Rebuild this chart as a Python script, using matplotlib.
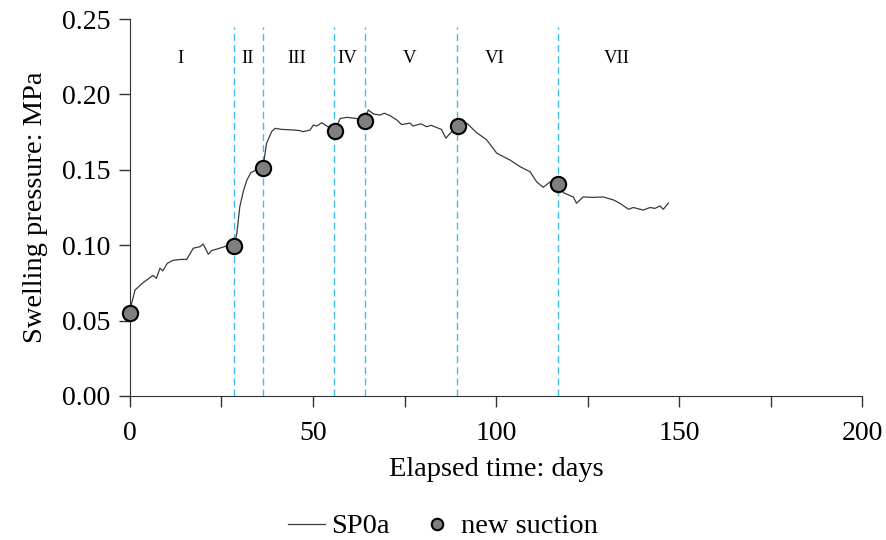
import matplotlib
matplotlib.use('Agg')
import matplotlib.pyplot as plt

plt.rcParams['font.family'] = ['Liberation Serif', 'DejaVu Serif']

# swelling pressure record SP0a (days, MPa)
days = [0.0, 0.5, 1.4, 3.5, 6.3, 7.2, 8.2, 9.0, 10.2, 11.8, 14.1, 15.5, 17.3,
        19.1, 20.0, 21.4, 22.3, 24.5, 26.4, 28.4,
        29.2, 30.0, 31.0, 31.9, 33.0, 34.5, 36.3,
        37.3, 38.7, 39.6, 41.4, 44.6, 46.4, 47.3, 49.2, 50.1, 51.0, 52.4, 53.3,
        54.5, 56.0, 57.4, 59.2, 61.9, 64.2,
        65.1, 66.5, 68.3, 69.5, 71.0, 72.9, 74.2, 76.5, 77.3, 78.3, 79.5, 81.0,
        82.3, 83.8, 85.1, 86.3, 87.4, 89.7,
        92.0, 94.7, 97.4, 100.2, 103.8, 106.6, 109.3, 111.1, 112.9, 114.8, 117.0,
        118.4, 121.1, 122.0, 123.8, 126.6, 129.3, 132.1, 133.9, 136.2, 137.5,
        140.2, 142.1, 143.4, 144.8, 145.7, 147.1]
pressure = [0.055, 0.062, 0.0703, 0.075, 0.080, 0.078, 0.0847, 0.083, 0.088, 0.090,
            0.0906, 0.0906, 0.098, 0.099, 0.1008, 0.094, 0.0964, 0.098, 0.0995, 0.0995,
            0.108, 0.1255, 0.136, 0.143, 0.148, 0.150, 0.151,
            0.1675, 0.1753, 0.1775, 0.1768, 0.1764, 0.176, 0.1753, 0.1764, 0.1797,
            0.179, 0.1812, 0.1797, 0.178, 0.176, 0.184, 0.1848, 0.184, 0.1826,
            0.1897, 0.187, 0.1863, 0.1875, 0.186, 0.183, 0.180, 0.181, 0.179, 0.1797,
            0.1805, 0.1786, 0.1795, 0.178, 0.1768, 0.171, 0.174, 0.179,
            0.181, 0.1746, 0.170, 0.161, 0.1565, 0.152, 0.1487, 0.142, 0.1384, 0.142,
            0.1406, 0.1348, 0.132, 0.1278, 0.132, 0.1317, 0.132, 0.130, 0.1277,
            0.1238, 0.125, 0.1233, 0.125, 0.1244, 0.126, 0.1238, 0.128]

# times at which a new suction was applied
suction_days = [0.0, 28.4, 36.3, 56.0, 64.2, 89.7, 117.0]
suction_pressure = [0.055, 0.0995, 0.151, 0.176, 0.1826, 0.179, 0.1406]

# stage boundaries and labels
stage_bounds = [28.4, 36.3, 55.7, 64.2, 89.3, 116.9]
stage_names = ['I', 'II', 'III', 'IV', 'V', 'VI', 'VII']
stage_label_x = [13.7, 32.0, 45.6, 59.3, 76.5, 99.7, 133.0]

fig = plt.figure(figsize=(8.86, 5.4), dpi=100)
ax = fig.add_axes([0.1467, 0.2667, 0.8263, 0.6981])

for xb in stage_bounds:
    ax.plot([xb, xb], [0, 0.245], color='#3fbdf0', linestyle=(0, (5, 3)),
            linewidth=1.0, zorder=1)

for name, xl in zip(stage_names, stage_label_x):
    ax.text(xl, 0.2235, name, ha='center', va='center', fontsize=13.5)

ax.plot(days, pressure, color='#3a3a3a', linewidth=0.9, label='SP0a', zorder=2)
ax.plot(suction_days, suction_pressure, linestyle='none', marker='o',
        markersize=11, markerfacecolor='#7f7f7f', markeredgecolor='black',
        markeredgewidth=1.5, label='new suction', zorder=3, clip_on=False)

ax.set_xlim(0, 200)
ax.set_ylim(0, 0.25)
ax.set_xticks([0, 25, 50, 75, 100, 125, 150, 175, 200])
ax.set_xticklabels(['0', '', '50', '', '100', '', '150', '', '200'])
ax.set_yticks([0, 0.05, 0.10, 0.15, 0.20, 0.25])
ax.set_yticklabels(['0.00', '0.05', '0.10', '0.15', '0.20', '0.25'])
ax.tick_params(labelsize=20, length=8, width=1, color='#333333', direction='out')
ax.tick_params(axis='x', pad=10)
ax.tick_params(axis='y', pad=6)
ax.spines['top'].set_visible(False)
ax.spines['right'].set_visible(False)
ax.spines['left'].set_color('#333333')
ax.spines['bottom'].set_color('#333333')

ax.set_xlabel('Elapsed time: days', fontsize=20.5, labelpad=8)
ax.set_ylabel('Swelling pressure: MPa', fontsize=20.5, labelpad=10)

fig.legend(loc='center', bbox_to_anchor=(0.5, 0.025), ncol=2, frameon=False,
           fontsize=20.5, handlelength=1.3, columnspacing=1.0, handletextpad=0.2,
           markerscale=0.75)

fig.savefig('out.png', dpi=100)
